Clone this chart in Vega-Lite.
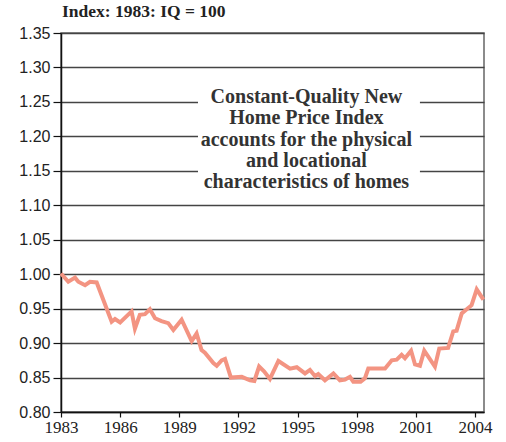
{
  "$schema": "https://vega.github.io/schema/vega-lite/v6.json",
  "width": 423,
  "height": 379,
  "autosize": {"type": "none"},
  "padding": {"left": 61, "top": 33, "right": 22, "bottom": 30},
  "background": "white",
  "title": {
    "text": "Index: 1983: IQ = 100",
    "anchor": "start",
    "frame": "group",
    "font": "Liberation Serif",
    "fontSize": 17.5,
    "fontWeight": "bold",
    "color": "#222",
    "offset": 5,
    "dx": 1
  },
  "config": {
    "view": {"stroke": "#666", "strokeWidth": 1.5},
    "axis": {"labelColor": "#222", "domainColor": "#111", "tickColor": "#111"}
  },
  "datasets": {
    "series": [
      {"t": 1983.0, "v": 1.001},
      {"t": 1983.37, "v": 0.989},
      {"t": 1983.71, "v": 0.995},
      {"t": 1983.88, "v": 0.989},
      {"t": 1984.22, "v": 0.984},
      {"t": 1984.47, "v": 0.989},
      {"t": 1984.81, "v": 0.988},
      {"t": 1985.57, "v": 0.931},
      {"t": 1985.74, "v": 0.935},
      {"t": 1986.0, "v": 0.93},
      {"t": 1986.58, "v": 0.946},
      {"t": 1986.75, "v": 0.921},
      {"t": 1987.0, "v": 0.941},
      {"t": 1987.26, "v": 0.942},
      {"t": 1987.51, "v": 0.949},
      {"t": 1987.77, "v": 0.936},
      {"t": 1988.1, "v": 0.932},
      {"t": 1988.44, "v": 0.929},
      {"t": 1988.7, "v": 0.919},
      {"t": 1989.12, "v": 0.934},
      {"t": 1989.63, "v": 0.903},
      {"t": 1989.88, "v": 0.914},
      {"t": 1990.13, "v": 0.89},
      {"t": 1990.3, "v": 0.886},
      {"t": 1990.73, "v": 0.871},
      {"t": 1990.9, "v": 0.867},
      {"t": 1991.15, "v": 0.875},
      {"t": 1991.32, "v": 0.877},
      {"t": 1991.62, "v": 0.85},
      {"t": 1992.17, "v": 0.851},
      {"t": 1992.59, "v": 0.846},
      {"t": 1992.81, "v": 0.845},
      {"t": 1993.05, "v": 0.866},
      {"t": 1993.3, "v": 0.859},
      {"t": 1993.6, "v": 0.848},
      {"t": 1994.03, "v": 0.874},
      {"t": 1994.62, "v": 0.863},
      {"t": 1994.96, "v": 0.865},
      {"t": 1995.38, "v": 0.856},
      {"t": 1995.63, "v": 0.861},
      {"t": 1995.89, "v": 0.852},
      {"t": 1996.05, "v": 0.855},
      {"t": 1996.39, "v": 0.846},
      {"t": 1996.82, "v": 0.856},
      {"t": 1997.15, "v": 0.846},
      {"t": 1997.41, "v": 0.847},
      {"t": 1997.66, "v": 0.851},
      {"t": 1997.83, "v": 0.844},
      {"t": 1998.2, "v": 0.844},
      {"t": 1998.42, "v": 0.849},
      {"t": 1998.59, "v": 0.863},
      {"t": 1999.44, "v": 0.863},
      {"t": 1999.78, "v": 0.875},
      {"t": 2000.03, "v": 0.876},
      {"t": 2000.28, "v": 0.883},
      {"t": 2000.45, "v": 0.878},
      {"t": 2000.76, "v": 0.889},
      {"t": 2000.96, "v": 0.869},
      {"t": 2001.21, "v": 0.867},
      {"t": 2001.43, "v": 0.889},
      {"t": 2001.97, "v": 0.866},
      {"t": 2002.19, "v": 0.892},
      {"t": 2002.64, "v": 0.893},
      {"t": 2002.9, "v": 0.917},
      {"t": 2003.07, "v": 0.918},
      {"t": 2003.33, "v": 0.943},
      {"t": 2003.83, "v": 0.955},
      {"t": 2004.09, "v": 0.978},
      {"t": 2004.43, "v": 0.963}
    ],
    "note": [
      {"x1": 1989.95, "x2": 2001.21, "y1": 1.125, "y2": 1.275, "xc": 1995.45, "yc": 1.257,
       "label": ["Constant-Quality New", "Home Price Index", "accounts for the physical", "and locational", "characteristics of homes"]}
    ]
  },
  "layer": [
    {
      "data": {"name": "series"},
      "mark": {"type": "line", "color": "#F39482", "strokeWidth": 4, "strokeJoin": "miter"},
      "encoding": {
        "x": {
          "field": "t", "type": "quantitative",
          "scale": {"domain": [1983, 2004.46], "nice": false, "zero": false},
          "axis": {
            "title": null, "values": [1983, 1986, 1989, 1992, 1995, 1998, 2001, 2004],
            "tickCount": 20,
            "format": "d", "grid": false, "labelFont": "Liberation Serif", "labelFontSize": 17,
            "labelPadding": 2, "tickSize": 5, "tickWidth": 1.2, "domainWidth": 1.5, "labelFlush": false,
            "labelOverlap": false
          }
        },
        "y": {
          "field": "v", "type": "quantitative",
          "scale": {"domain": [0.8, 1.35], "nice": false, "zero": false},
          "axis": {
            "title": null, "values": [0.8, 0.85, 0.9, 0.95, 1.0, 1.05, 1.1, 1.15, 1.2, 1.25, 1.3, 1.35],
            "tickCount": 20,
            "format": ".2f", "grid": true, "gridColor": "#444", "gridWidth": 1.3, "gridOpacity": 1,
            "labelFont": "Liberation Sans", "labelFontSize": 16, "labelPadding": 3,
            "tickSize": 8, "tickWidth": 1.2, "domainWidth": 1.5, "labelFlush": false,
            "labelOverlap": false
          }
        }
      }
    },
    {
      "data": {"name": "note"},
      "mark": {"type": "rect", "color": "white"},
      "encoding": {
        "x": {"field": "x1", "type": "quantitative"},
        "x2": {"field": "x2"},
        "y": {"field": "y1", "type": "quantitative"},
        "y2": {"field": "y2"}
      }
    },
    {
      "data": {"name": "note"},
      "mark": {"type": "text", "font": "Liberation Serif", "fontSize": 20, "fontWeight": "bold", "color": "#333", "lineHeight": 21.3, "baseline": "middle", "align": "center"},
      "encoding": {
        "x": {"field": "xc", "type": "quantitative"},
        "y": {"field": "yc", "type": "quantitative"},
        "text": {"field": "label"}
      }
    }
  ]
}
